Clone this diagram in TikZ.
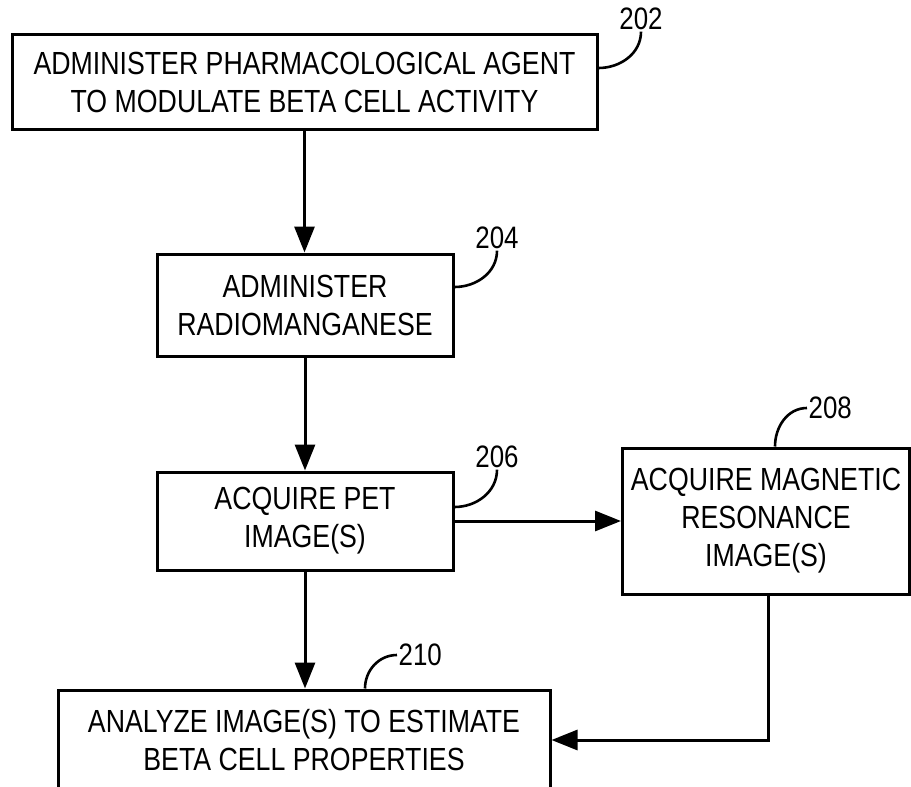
\documentclass[tikz,border=0pt]{standalone}
\usepackage{fontspec}
\setmainfont[FakeStretch=0.835]{Liberation Sans}
\usetikzlibrary{arrows.meta}
\begin{document}
\begin{tikzpicture}[x=1pt,y=-1pt,
  stepbox/.style={draw=black, line width=3pt, fill=white, inner sep=0pt,
    align=center, font=\fontsize{32}{38}\selectfont},
  reflabel/.style={inner sep=1.5pt, font=\fontsize{31}{34}\selectfont},
  flow/.style={line width=3pt, -{Triangle[length=26pt,width=20pt]}},
  leader/.style={line width=2.6pt}]
\useasboundingbox (0,0) rectangle (911,787);

% process steps
\node[stepbox, minimum width=585pt, minimum height=95pt] (n202) at (304.5,82)
  {ADMINISTER PHARMACOLOGICAL AGENT\\TO MODULATE BETA CELL ACTIVITY};
\node[stepbox, minimum width=296pt, minimum height=102pt] (n204) at (305,305)
  {ADMINISTER\\RADIOMANGANESE};
\node[stepbox, minimum width=296pt, minimum height=98pt] (n206) at (305,521)
  {ACQUIRE PET\\IMAGE(S)};
\node[stepbox, minimum width=287pt, minimum height=146pt] (n208) at (766,521)
  {ACQUIRE MAGNETIC\\RESONANCE\\IMAGE(S)};
\node[stepbox, minimum width=492pt, minimum height=100pt] (n210) at (304,740)
  {ANALYZE IMAGE(S) TO ESTIMATE\\BETA CELL PROPERTIES};

% reference numerals
\node[reflabel] (t202) at (641,19) {202};
\node[reflabel] (t204) at (497,238) {204};
\node[reflabel] (t206) at (497,457) {206};
\node[reflabel, anchor=west] (t208) at (807,408) {208};
\node[reflabel, anchor=west] (t210) at (397,655) {210};

% leader lines
\draw[leader] ([yshift=14pt]n202.east) to[out=0,in=-90] (t202.south);
\draw[leader] ([yshift=18pt]n204.east) to[out=0,in=-90] (t204.south);
\draw[leader] ([yshift=14pt]n206.east) to[out=0,in=-90] (t206.south);
\draw[leader] ([xshift=9pt]n208.north) to[out=90,in=180] (t208.west);
\draw[leader] ([xshift=61pt]n210.north) to[out=90,in=180] (t210.west);

% flow arrows
\draw[flow] (n202.south) -- (n202.south |- n204.north);
\draw[flow] (n204.south) -- (n204.south |- n206.north);
\draw[flow] (n206.east) -- (n206.east -| n208.west);
\draw[flow] (n206.south) -- (n206.south |- n210.north);
\draw[flow] ([xshift=2pt]n208.south) |- (n210.east);
\end{tikzpicture}
\end{document}
